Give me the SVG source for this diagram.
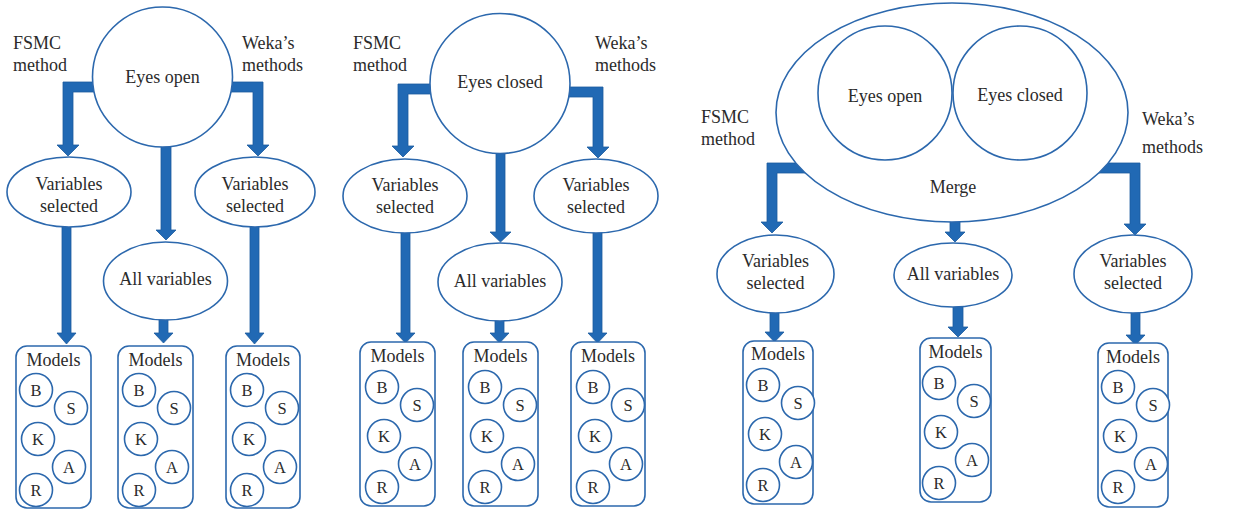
<svg xmlns="http://www.w3.org/2000/svg" width="1243" height="509" viewBox="0 0 1243 509">
<style>
  .t { font-family: "Liberation Serif", "Times New Roman", serif; font-size: 18px; fill: #2b2b2b; }
  .m { text-anchor: middle; }
  .s { font-size: 16.5px; }
  .n { fill: #ffffff; stroke: #2c68ad; stroke-width: 1.6; }
  .c { fill: #ffffff; stroke: #2c68ad; stroke-width: 1.6; }
  .a { fill: #2169b4; stroke: #1d5c9e; stroke-width: 0.8; }
</style>
<defs>
  <g id="models5">
    <circle class="c" cx="0" cy="0" r="16.5"/><text class="t s m" x="0" y="6">B</text>
    <circle class="c" cx="35" cy="18" r="16.5"/><text class="t s m" x="35" y="24">S</text>
    <circle class="c" cx="2" cy="49" r="16.5"/><text class="t s m" x="2" y="55">K</text>
    <circle class="c" cx="33" cy="77" r="16.5"/><text class="t s m" x="33" y="83">A</text>
    <circle class="c" cx="0" cy="100" r="16.5"/><text class="t s m" x="0" y="106">R</text>
  </g>
</defs>

<!-- connectors (drawn first, nodes overlay their starts) -->
<g id="connectors">
  <!-- panel 1 -->
  <path class="a" d="M100,82 L63,82 L63,145 L57,145 L68,156 L79,145 L73,145 L73,92 L100,92 Z"/>
  <path class="a" d="M225,82 L263,82 L263,145 L269,145 L258,156 L247,145 L253,145 L253,92 L225,92 Z"/>
  <path class="a" d="M161,140 L171,140 L171,230 L176,230 L166,240 L156,230 L161,230 Z"/>
  <path class="a" d="M62,220 L71,220 L71,333 L76,333 L66.5,344 L57,333 L62,333 Z"/>
  <path class="a" d="M159,315 L168,315 L168,333 L173,333 L163.5,343 L154,333 L159,333 Z"/>
  <path class="a" d="M250,220 L259,220 L259,333 L264,333 L254.5,344 L245,333 L250,333 Z"/>
  <!-- panel 2 -->
  <path class="a" d="M438,84 L398,84 L398,146 L392,146 L403,157 L414,146 L408,146 L408,94 L438,94 Z"/>
  <path class="a" d="M562,87 L603,87 L603,147 L609,147 L598,158 L587,147 L593,147 L593,97 L562,97 Z"/>
  <path class="a" d="M496,145 L505,145 L505,232 L511,232 L500.5,242 L490,232 L496,232 Z"/>
  <path class="a" d="M401,225 L410,225 L410,333 L415,333 L405.5,343 L396,333 L401,333 Z"/>
  <path class="a" d="M495,315 L504,315 L504,333 L509,333 L499.5,343 L490,333 L495,333 Z"/>
  <path class="a" d="M593,225 L602,225 L602,333 L607,333 L597.5,343 L588,333 L593,333 Z"/>
  <!-- panel 3 -->
  <path class="a" d="M810,163 L767,163 L767,222 L761,222 L772,233 L783,222 L777,222 L777,173 L810,173 Z"/>
  <path class="a" d="M1095,163 L1140,163 L1140,224 L1146,224 L1135,235 L1124,224 L1130,224 L1130,173 L1095,173 Z"/>
  <path class="a" d="M950,215 L960,215 L960,232 L965,232 L955,242 L945,232 L950,232 Z"/>
  <path class="a" d="M770,305 L779,305 L779,332 L784,332 L774.5,342 L765,332 L770,332 Z"/>
  <path class="a" d="M953,300 L963,300 L963,327 L968,327 L958,337 L948,327 L953,327 Z"/>
  <path class="a" d="M1131,305 L1140,305 L1140,335 L1145,335 L1135.5,345 L1126,335 L1131,335 Z"/>
</g>

<!-- panel 1 -->
<g id="p1-labels">
  <text class="t" x="13" y="49">FSMC</text>
  <text class="t" x="13" y="71">method</text>
  <text class="t" x="242" y="49">Weka’s</text>
  <text class="t" x="242" y="71">methods</text>
</g>
<g id="p1-eyes-open">
  <circle class="n" cx="162.5" cy="77" r="70"/>
  <text class="t m" x="162.5" y="83">Eyes open</text>
</g>
<g id="p1-var-left">
  <ellipse class="n" cx="69" cy="192" rx="62" ry="35"/>
  <text class="t m" x="69" y="190">Variables</text>
  <text class="t m" x="69" y="212">selected</text>
</g>
<g id="p1-var-right">
  <ellipse class="n" cx="255" cy="192" rx="60" ry="35"/>
  <text class="t m" x="255" y="190">Variables</text>
  <text class="t m" x="255" y="212">selected</text>
</g>
<g id="p1-all">
  <ellipse class="n" cx="165.5" cy="281" rx="62" ry="39"/>
  <text class="t m" x="165.5" y="285">All variables</text>
</g>
<g id="p1-models-1">
  <rect class="n" x="16" y="346" width="75" height="162" rx="11"/>
  <text class="t m" x="53.5" y="366">Models</text>
  <use href="#models5" x="36" y="390"/>
</g>
<g id="p1-models-2">
  <rect class="n" x="118" y="346" width="75" height="162" rx="11"/>
  <text class="t m" x="155.5" y="366">Models</text>
  <use href="#models5" x="139" y="390"/>
</g>
<g id="p1-models-3">
  <rect class="n" x="226" y="346" width="74" height="162" rx="11"/>
  <text class="t m" x="263" y="366">Models</text>
  <use href="#models5" x="247" y="390"/>
</g>

<!-- panel 2 -->
<g id="p2-labels">
  <text class="t" x="353" y="49">FSMC</text>
  <text class="t" x="353" y="71">method</text>
  <text class="t" x="595" y="49">Weka’s</text>
  <text class="t" x="595" y="71">methods</text>
</g>
<g id="p2-eyes-closed">
  <circle class="n" cx="500" cy="83.5" r="70"/>
  <text class="t m" x="500" y="88">Eyes closed</text>
</g>
<g id="p2-var-left">
  <ellipse class="n" cx="405" cy="196" rx="62" ry="37"/>
  <text class="t m" x="405" y="191">Variables</text>
  <text class="t m" x="405" y="213">selected</text>
</g>
<g id="p2-var-right">
  <ellipse class="n" cx="596" cy="196" rx="62" ry="37"/>
  <text class="t m" x="596" y="191">Variables</text>
  <text class="t m" x="596" y="213">selected</text>
</g>
<g id="p2-all">
  <ellipse class="n" cx="500" cy="282" rx="62" ry="39"/>
  <text class="t m" x="500" y="287">All variables</text>
</g>
<g id="p2-models-1">
  <rect class="n" x="360" y="342" width="75" height="164" rx="11"/>
  <text class="t m" x="397.5" y="362">Models</text>
  <use href="#models5" x="382" y="387"/>
</g>
<g id="p2-models-2">
  <rect class="n" x="463" y="342" width="75" height="164" rx="11"/>
  <text class="t m" x="500.5" y="362">Models</text>
  <use href="#models5" x="485" y="387"/>
</g>
<g id="p2-models-3">
  <rect class="n" x="571" y="342" width="74" height="164" rx="11"/>
  <text class="t m" x="608" y="362">Models</text>
  <use href="#models5" x="593" y="387"/>
</g>

<!-- panel 3 -->
<g id="p3-labels">
  <text class="t" x="701" y="123">FSMC</text>
  <text class="t" x="701" y="145">method</text>
  <text class="t" x="1142" y="125">Weka’s</text>
  <text class="t" x="1142" y="153">methods</text>
</g>
<g id="p3-merge">
  <ellipse class="n" cx="952" cy="112.5" rx="176" ry="109.5"/>
  <text class="t m" x="953" y="193">Merge</text>
</g>
<g id="p3-eyes-open">
  <circle class="n" cx="885" cy="93" r="67"/>
  <text class="t m" x="885" y="102">Eyes open</text>
</g>
<g id="p3-eyes-closed">
  <circle class="n" cx="1020" cy="93" r="67"/>
  <text class="t m" x="1020" y="101">Eyes closed</text>
</g>
<g id="p3-var-left">
  <ellipse class="n" cx="775.5" cy="274" rx="58.5" ry="39"/>
  <text class="t m" x="775.5" y="267">Variables</text>
  <text class="t m" x="775.5" y="289">selected</text>
</g>
<g id="p3-all">
  <ellipse class="n" cx="953" cy="275" rx="59" ry="32"/>
  <text class="t m" x="953" y="280">All variables</text>
</g>
<g id="p3-var-right">
  <ellipse class="n" cx="1133" cy="274" rx="59" ry="39"/>
  <text class="t m" x="1133" y="267">Variables</text>
  <text class="t m" x="1133" y="289">selected</text>
</g>
<g id="p3-models-1">
  <rect class="n" x="743" y="341" width="70" height="163" rx="11"/>
  <text class="t m" x="778" y="360">Models</text>
  <use href="#models5" x="763" y="385"/>
</g>
<g id="p3-models-2">
  <rect class="n" x="920" y="338" width="71" height="164" rx="11"/>
  <text class="t m" x="955.5" y="358">Models</text>
  <use href="#models5" x="939" y="383"/>
</g>
<g id="p3-models-3">
  <rect class="n" x="1098" y="343" width="70" height="164" rx="11"/>
  <text class="t m" x="1133" y="363">Models</text>
  <use href="#models5" x="1118" y="387"/>
</g>
</svg>
